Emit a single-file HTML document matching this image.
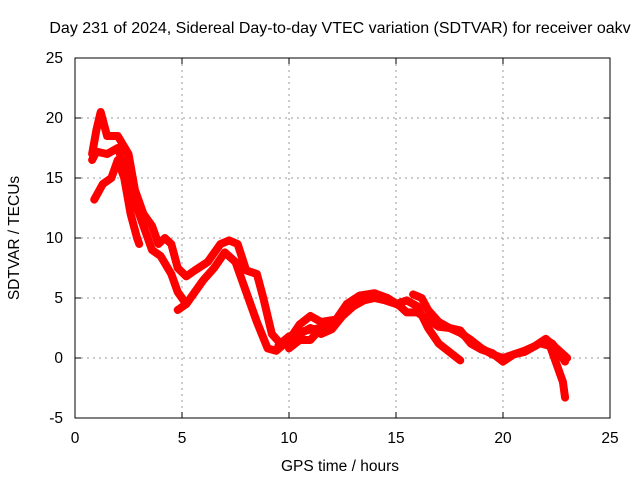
<!DOCTYPE html>
<html><head><meta charset="utf-8"><style>
body{margin:0;background:#fff}
svg{display:block;font-family:"Liberation Sans",sans-serif;font-size:15.5px}
</style></head><body>
<svg id="c" width="640" height="480">
<text x="340" y="33" text-anchor="middle" style="font-size:16px">Day 231 of 2024, Sidereal Day-to-day VTEC variation (SDTVAR) for receiver oakv</text>
<text x="340" y="471" text-anchor="middle">GPS time / hours</text>
<text transform="translate(19,238) rotate(-90)" text-anchor="middle">SDTVAR / TECUs</text>
<g id="grid"></g><g id="marks"></g>
<rect x="75" y="58" width="535" height="360" fill="none" stroke="#000"/>
</svg>
<script>
const xTicks=[0,5,10,15,20,25];
const yTicks=[-5,0,5,10,15,20,25];
const trackA=[[0.8,17],[1,19],[1.2,20.5],[1.5,18.5],[2,18.5],[2.5,17],[2.8,14],[3.2,12],[3.6,11],[3.9,9.5],[4.2,10],[4.5,9.5],[4.8,7.5],[5.2,6.8],[5.6,7.3],[6.2,8],[6.8,9.5],[7.2,9.8],[7.6,9.5],[8,7.3],[8.5,7],[8.8,5],[9.2,2],[9.6,1.2],[10,1.8],[10.8,2.3],[11.5,2.5],[12.2,3.2]];
const trackB=[[0.9,13.2],[1.3,14.5],[1.7,15],[2,16.5],[2.3,15],[2.6,12],[2.9,10],[3.0,9.5]];
const trackB2=[[0.8,16.5],[1.0,17.2],[1.5,17],[2,17.5],[2.5,15],[2.8,13],[3.2,11],[3.6,9],[4,8.5],[4.5,7],[4.8,5.5],[5.2,4.5]];
const trackC=[[4.8,4],[5.2,4.5],[5.6,5.5],[6,6.5],[6.5,7.5],[7,8.8],[7.5,8],[8,5.5],[8.5,3],[9,0.8],[9.4,0.6],[10,1.5],[10.5,2.8],[11,3.5],[11.5,3.0],[12.2,3.2],[12.7,4.5],[13.3,5.2],[14,5.4],[14.6,5],[15.2,4.3],[15.5,3.8],[16,3.8],[16.5,3.2],[17,2.6],[17.5,2.5],[18,2.1],[18.5,1.5],[19,0.8],[19.5,0.3],[20,0],[20.5,0.3],[21,0.5],[21.5,1],[22,1.5],[22.3,1.2],[22.6,0.5],[22.9,-0.3]];
const trackD=[[9.5,1],[10,1.2],[10.5,2.0],[11,2.5],[11.5,2.0],[12,2.4],[12.5,3.5],[13,4.3],[13.5,4.8],[14,5],[14.5,4.8],[15,4.5],[15.5,4.8],[16,4.3],[16.5,2.5],[17,1.2],[17.5,0.5],[18,-0.2]];
const trackE=[[21.8,1.2],[22.2,1],[22.5,-0.5],[22.8,-2],[22.9,-3.3]];
const trackF=[[10,0.8],[10.5,1.5],[11,1.5],[11.5,2.5],[12,2.5]];
const trackG=[[15.8,5.3],[16.2,5],[16.5,4],[17,3],[17.5,2.5],[18,2.3],[18.5,1.2],[19,0.7],[19.5,0.4],[20,-0.3],[20.5,0.3],[21,0.6],[21.5,1],[22,1.6],[22.5,0.8],[23,0]];
const tracks=[trackA,trackB,trackB2,trackC,trackD,trackE,trackF,trackG];
const NS='http://www.w3.org/2000/svg';
const sx=v=>75+v*535/25, sy=v=>418-(v+5)*12;
const g=document.getElementById('grid'), m=document.getElementById('marks');
function el(t,a,p){const e=document.createElementNS(NS,t);for(const k in a)e.setAttribute(k,a[k]);p.appendChild(e);return e;}
xTicks.forEach(t=>{
 if(t>0&&t<25){const l=el('line',{x1:sx(t),x2:sx(t),y1:58,y2:418,stroke:'#999','stroke-dasharray':'2,4'},g);
 
 }
 el('line',{x1:sx(t),x2:sx(t),y1:418,y2:412,stroke:'#000'},g);
 el('line',{x1:sx(t),x2:sx(t),y1:58,y2:64,stroke:'#000'},g);
 const tx=el('text',{x:sx(t),y:443,'text-anchor':'middle'},g);tx.textContent=t;
 
 
});
yTicks.forEach(t=>{
 if(t>-5&&t<25){const l=el('line',{x1:75,x2:610,y1:sy(t),y2:sy(t),stroke:'#999','stroke-dasharray':'2,4'},g);
 
 }
 el('line',{x1:75,x2:81,y1:sy(t),y2:sy(t),stroke:'#000'},g);
 el('line',{x1:610,x2:604,y1:sy(t),y2:sy(t),stroke:'#000'},g);
 const tx=el('text',{x:63,y:sy(t)+5,'text-anchor':'end'},g);tx.textContent=t;
 
 
});
tracks.forEach(tr=>{
 const p=el('polyline',{points:tr.map(d=>sx(d[0])+','+sy(d[1])).join(' '),fill:'none',stroke:'#f00','stroke-width':8,'stroke-linejoin':'round','stroke-linecap':'round'},m);
 
 
});
</script>
</body></html>
